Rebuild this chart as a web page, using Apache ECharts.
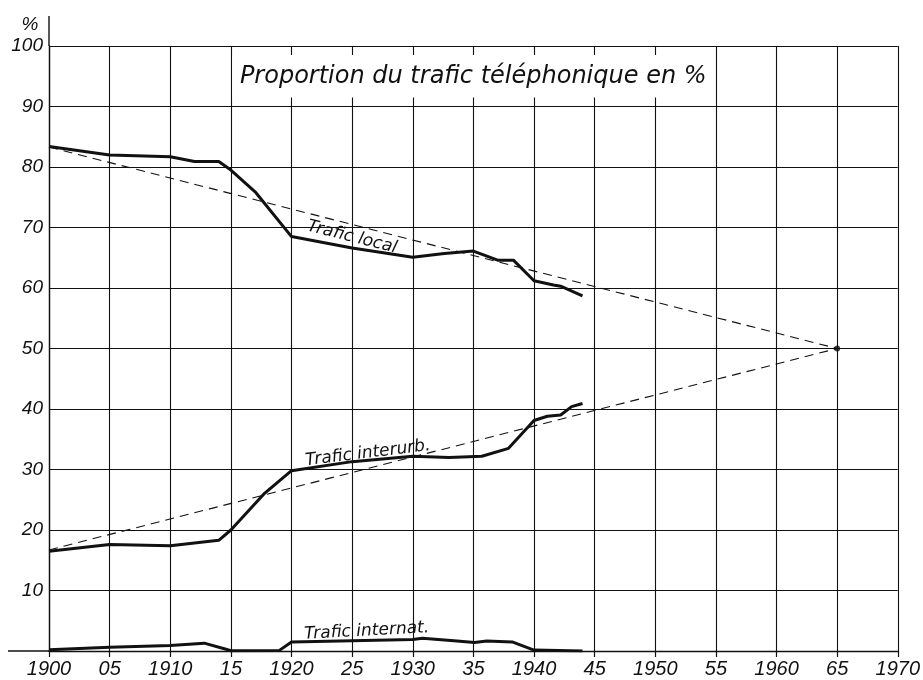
<!DOCTYPE html>
<html>
<head>
<meta charset="utf-8">
<script src="https://cdn.jsdelivr.net/npm/echarts@6/dist/echarts.min.js"></script>
<style>
html,body{margin:0;padding:0;background:#fff;}
#chart{width:923px;height:680px;}
</style>
</head>
<body>
<div id="chart"></div>
<script>
// ---- data ----
const titleText = 'Proportion du trafic téléphonique en %';
const yUnit = '%';

const localYears = [1900, 1905, 1910, 1912, 1914, 1915, 1917, 1920, 1925, 1930, 1932.6, 1935, 1937, 1938.3, 1940, 1941.6, 1942.2, 1944];
const localVals  = [83.4, 82.0, 81.7, 80.9, 80.9, 79.5, 75.9, 68.5, 66.6, 65.1, 65.7, 66.1, 64.6, 64.6, 61.2, 60.5, 60.3, 58.7];

const interYears = [1900, 1905, 1910, 1914, 1915, 1917.8, 1920, 1925, 1930, 1933, 1935.7, 1937.9, 1940, 1941.1, 1942.2, 1943.1, 1944];
const interVals  = [16.5, 17.6, 17.4, 18.3, 20.0, 26.1, 29.8, 31.3, 32.2, 32.0, 32.2, 33.5, 38.1, 38.8, 39.0, 40.4, 40.9];

const intlYears = [1900, 1905, 1910, 1912.8, 1914.6, 1915, 1919, 1920, 1925, 1930, 1930.8, 1933.4, 1935.1, 1936.1, 1938.2, 1940, 1944];
const intlVals  = [0.2, 0.6, 0.9, 1.3, 0.3, 0.05, 0.1, 1.5, 1.7, 1.9, 2.1, 1.7, 1.4, 1.65, 1.5, 0.15, 0.0];

const localTrendYears = [1900, 1965];
const localTrendVals  = [83.3, 50];
const interTrendYears = [1900, 1965];
const interTrendVals  = [16.7, 50];
const meetPoint = [1965, 50];

const seriesLabels = ['Trafic local', 'Trafic interurb.', 'Trafic internat.'];
const labelAnchors = [[1925.0, 68.4], [1926.3, 32.7], [1926.2, 3.3]];
const labelAngles = [-14, 7, 3];

const xMin = 1900, xMax = 1970, xStep = 5;
const yMin = 0, yMax = 100, yStep = 10;

// ---- helpers ----
const zip = (xs, ys) => xs.map((x, i) => [x, ys[i]]);
const FONT = '"Liberation Sans", Arial, sans-serif';
const LFONT = '"DejaVu Sans", sans-serif';
const INK = '#111';

const chart = echarts.init(document.getElementById('chart'), null, {renderer: 'canvas'});

const lineSeries = (name, xs, ys) => ({
  name, type: 'line', data: zip(xs, ys), showSymbol: false, symbol: 'none',
  lineStyle: {color: INK, width: 3}, smooth: false, z: 5, silent: true
});
const dashSeries = (name, xs, ys) => ({
  name, type: 'line', data: zip(xs, ys), showSymbol: false, symbol: 'none',
  lineStyle: {color: INK, width: 1.1, type: [9, 6]}, z: 4, silent: true
});

const option = {
  backgroundColor: '#fff',
  animation: false,
  grid: {left: 49, right: 19, top: 46, bottom: 29, containLabel: false},
  xAxis: {
    type: 'value', min: xMin, max: xMax, interval: xStep,
    axisLine: {show: true, onZero: false, lineStyle: {color: INK, width: 1.4}},
    axisTick: {show: true, length: 6, inside: false, lineStyle: {color: INK, width: 1.2}},
    splitLine: {show: true, lineStyle: {color: INK, width: 1.1}},
    axisLabel: {
      color: INK, fontSize: 20, fontStyle: 'italic', fontFamily: FONT, margin: 8,
      formatter: v => (v % 10 === 0 ? String(v) : String(v).slice(2))
    }
  },
  yAxis: {
    type: 'value', min: yMin, max: yMax, interval: yStep,
    axisLine: {show: true, lineStyle: {color: INK, width: 1.4}},
    axisTick: {show: false},
    splitLine: {show: true, lineStyle: {color: INK, width: 1.1}},
    axisLabel: {
      color: INK, fontSize: 19, fontStyle: 'italic', fontFamily: FONT, margin: 6,
      formatter: v => (v === 0 ? '' : String(v))
    }
  },
  series: [
    lineSeries(seriesLabels[0], localYears, localVals),
    lineSeries(seriesLabels[1], interYears, interVals),
    lineSeries(seriesLabels[2], intlYears, intlVals),
    dashSeries('trend local', localTrendYears, localTrendVals),
    dashSeries('trend interurb', interTrendYears, interTrendVals),
    {type: 'scatter', data: [meetPoint], symbolSize: 6, itemStyle: {color: INK}, z: 6, silent: true}
  ]
};
chart.setOption(option);

// annotations positioned from data coordinates
const px = p => chart.convertToPixel({gridIndex: 0}, p);
const x0 = px([xMin, yMin]);
const yTop = px([xMin, yMax]);
const b1 = px([1915, 98.5]);
const b2 = px([1955, 91.5]);

const graphics = [
  // y axis extends above the top
  {type: 'line', shape: {x1: x0[0], y1: yTop[1], x2: x0[0], y2: yTop[1] - 30}, style: {stroke: INK, lineWidth: 1.4}, z: 10},
  // x axis extends to the left
  {type: 'line', shape: {x1: x0[0], y1: x0[1], x2: x0[0] - 41, y2: x0[1]}, style: {stroke: INK, lineWidth: 1.4}, z: 10},
  {type: 'text', x: x0[0] - 19, y: yTop[1] - 21, z: 10,
   style: {text: yUnit, font: 'italic 19px ' + FONT, fill: INK, align: 'center', verticalAlign: 'middle', textAlign: 'center', textVerticalAlign: 'middle'}},
  // title box
  {type: 'rect', shape: {x: b1[0] + 1.5, y: b1[1], width: b2[0] - b1[0] - 3, height: b2[1] - b1[1]}, style: {fill: '#fff'}, z: 10},
  {type: 'text', x: b1[0] + 9, y: (b1[1] + b2[1]) / 2 + 1, z: 11,
   style: {text: titleText, font: 'oblique 24px ' + LFONT, fill: INK, align: 'left', verticalAlign: 'middle', textAlign: 'left', textVerticalAlign: 'middle'}}
];
seriesLabels.forEach((t, i) => {
  const p = px(labelAnchors[i]);
  graphics.push({
    type: 'text', x: p[0], y: p[1], rotation: labelAngles[i] * Math.PI / 180, z: 12,
    style: {text: t, font: 'oblique 17px ' + LFONT, fill: INK, align: 'center', verticalAlign: 'middle', textAlign: 'center', textVerticalAlign: 'middle'}
  });
});
chart.setOption({graphic: graphics});
</script>
</body>
</html>
